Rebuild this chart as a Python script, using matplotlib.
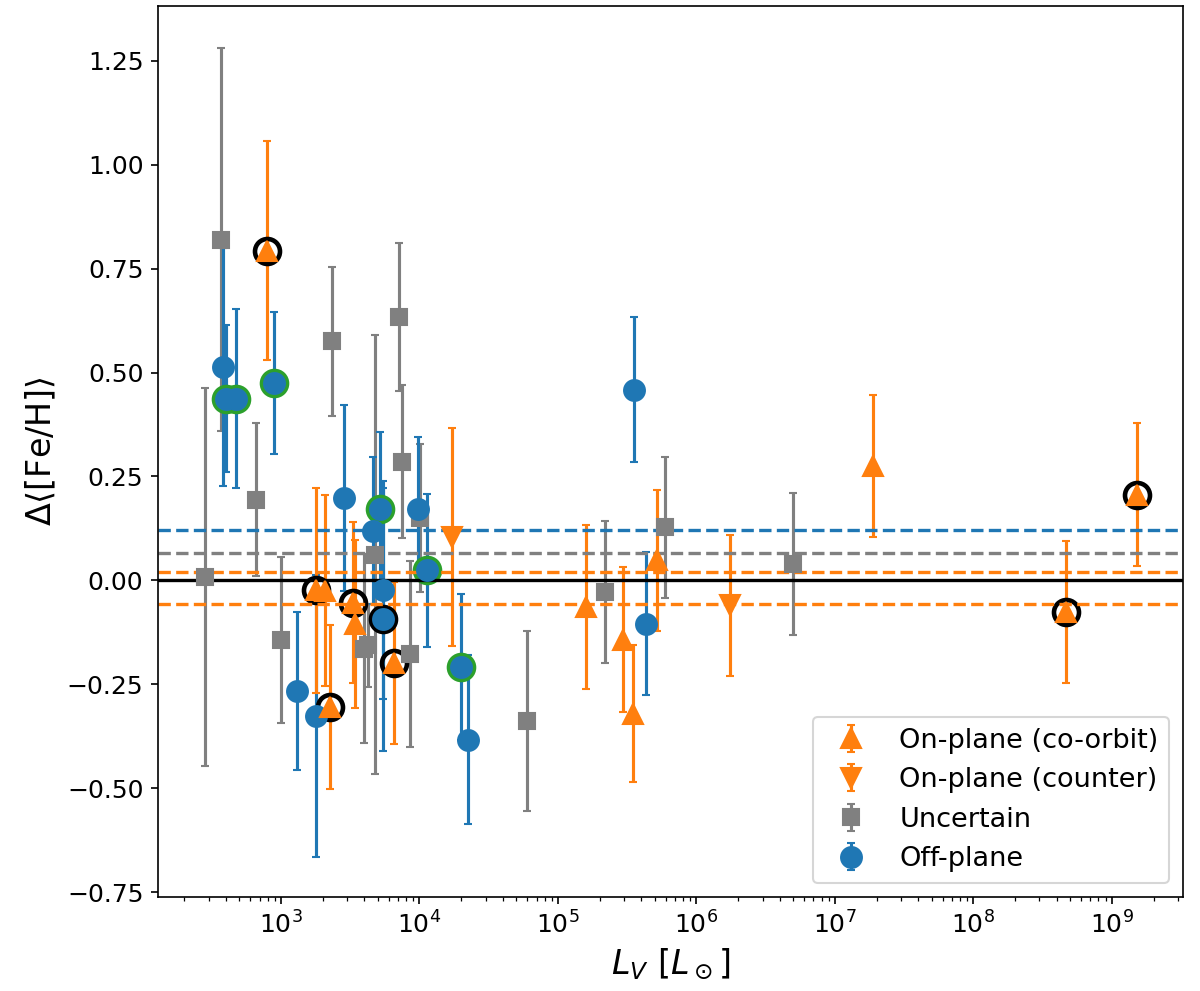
import numpy as np
import matplotlib.pyplot as plt

# On-plane, co-orbiting satellites
co_L = [789, 1791, 2080, 2270, 3327, 3420, 6577, 1.60e5, 2.924e5, 3.499e5,
        5.164e5, 1.871e7, 4.63e8, 1.507e9]
co_feh = [0.793, -0.024, -0.025, -0.305, -0.054, -0.105, -0.198, -0.064, -0.143,
          -0.321, 0.048, 0.276, -0.076, 0.206]
co_err = [0.263, 0.247, 0.23, 0.198, 0.194, 0.203, 0.195, 0.198, 0.174, 0.165,
          0.17, 0.171, 0.171, 0.172]

# On-plane, counter-orbiting
ct_L = [1.726e4, 1.746e6]
ct_feh = [0.104, -0.060]
ct_err = [0.263, 0.17]

# Uncertain
un_L = [367, 282, 659, 1000, 2323, 3990, 4266, 4775, 7145, 7516, 8531, 10090,
        5.943e4, 2.183e5, 5.929e5, 5.0e6]
un_feh = [0.82, 0.008, 0.194, -0.144, 0.575, -0.164, -0.156, 0.062, 0.633, 0.286,
          -0.178, 0.15, -0.339, -0.028, 0.128, 0.040]
un_err = [0.46, 0.455, 0.184, 0.2, 0.18, 0.227, 0.10, 0.528, 0.178, 0.185, 0.224,
          0.178, 0.216, 0.17, 0.17, 0.171]

# Off-plane
off_L = [383, 401, 473, 889, 1297, 1799, 2864, 4592, 5188, 5483, 5483, 9795,
         1.127e4, 1.995e4, 2.249e4, 3.556e5, 4.315e5]
off_feh = [0.513, 0.437, 0.437, 0.475, -0.266, -0.326, 0.199, 0.119, 0.172, -0.024,
           -0.094, 0.172, 0.024, -0.208, -0.383, 0.459, -0.104]
off_err = [0.287, 0.177, 0.215, 0.17, 0.19, 0.34, 0.224, 0.177, 0.185, 0.262,
           0.317, 0.174, 0.185, 0.176, 0.203, 0.175, 0.172]

# highlighted objects
black_L = [789, 1791, 2270, 3327, 6577, 4.63e8, 1.507e9, 5483]
black_feh = [0.793, -0.024, -0.305, -0.054, -0.198, -0.076, 0.206, -0.094]
green_L = [401, 473, 889, 5188, 1.127e4, 1.995e4]
green_feh = [0.437, 0.437, 0.475, 0.172, 0.024, -0.208]

# mean offsets
mean_off = 0.12
mean_un = 0.065
mean_co = [0.02, -0.056]

fig, ax = plt.subplots(figsize=(8, 6.607), dpi=150)
fig.subplots_adjust(left=0.1317, right=0.9858, bottom=0.0952, top=0.9939)

kw = dict(ls="none", capsize=2, elinewidth=1.5)
h_un = ax.errorbar(un_L, un_feh, yerr=un_err, fmt="s", color="gray", ms=8, **kw)
h_off = ax.errorbar(off_L, off_feh, yerr=off_err, fmt="o", color="C0", ms=10, **kw)
h_co = ax.errorbar(co_L, co_feh, yerr=co_err, fmt="^", color="C1", ms=10, **kw)
h_ct = ax.errorbar(ct_L, ct_feh, yerr=ct_err, fmt="v", color="C1", ms=10, **kw)

ax.plot(black_L, black_feh, "o", ms=12, mfc="none", mec="k", mew=2.2)
ax.plot(green_L, green_feh, "o", ms=12, mfc="none", mec="C2", mew=2.2)

ax.axhline(0, color="k", lw=1.6)
ax.axhline(mean_off, color="C0", ls="--", lw=1.6)
ax.axhline(mean_un, color="gray", ls="--", lw=1.6)
for m in mean_co:
    ax.axhline(m, color="C1", ls="--", lw=1.6)

ax.set_xscale("log")
ax.set_xlim(129.4, 3.26e9)
ax.set_ylim(-0.761, 1.382)
ax.set_yticks(np.arange(-0.75, 1.26, 0.25))
ax.tick_params(labelsize=12)
ax.set_xlabel(r"$L_V\ [L_\odot]$", fontsize=16)
ax.set_ylabel(r"$\Delta\langle[\mathrm{Fe/H}]\rangle$", fontsize=16)

ax.legend([h_co, h_ct, h_un, h_off],
          ["On-plane (co-orbit)", "On-plane (counter)", "Uncertain", "Off-plane"],
          loc="lower right", fontsize=13)

fig.savefig("out.png", dpi=150)
